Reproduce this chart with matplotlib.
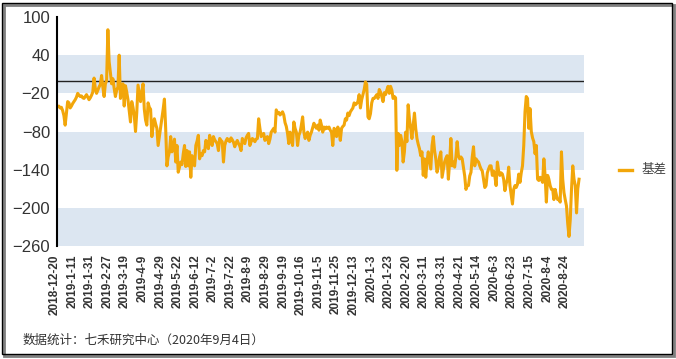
import matplotlib
matplotlib.use("Agg")
import matplotlib.pyplot as plt
import matplotlib.transforms as mtransforms
from matplotlib.lines import Line2D
from matplotlib.patches import Rectangle

plt.rcParams['font.family'] = ['Liberation Sans', 'Noto Sans CJK SC', 'DejaVu Sans']

# basis series, one value per trading day (2018-12-20 .. 2020-9-4)
basis = [
    -41, -40, -43, -42, -47, -55, -70, -52, -33, -35, -43, -40, -36, -33,
    -30, -26, -20, -23, -25, -24, -27, -28, -25, -22, -26, -30, -27, -23,
    -18, 4, -12, -20, -15, -10, -6, 8, -10, -25, -5, 0, 80, 30,
    12, -5, 3, -12, -25, -15, -10, 40, -28, -15, -5, -40, -8, -18,
    -30, -48, -65, -33, -42, -55, -80, -50, -7, -20, -33, -18, -5, -45,
    -62, -70, -35, -42, -45, -88, -72, -60, -68, -75, -102, -88, -75, -60,
    -45, -29, -75, -134, -120, -112, -88, -112, -104, -92, -128, -102, -144, -136,
    -128, -132, -115, -102, -135, -110, -134, -112, -152, -118, -126, -134, -102, -95,
    -86, -123, -115, -118, -110, -112, -94, -100, -107, -86, -95, -102, -88, -93,
    -96, -99, -110, -91, -94, -96, -128, -102, -95, -91, -94, -96, -90, -93,
    -97, -104, -98, -94, -99, -103, -110, -91, -95, -99, -90, -86, -83, -102,
    -96, -91, -93, -96, -92, -91, -60, -75, -88, -85, -83, -94, -90, -88,
    -99, -92, -81, -78, -75, -81, -46, -51, -50, -54, -52, -49, -54, -66,
    -72, -83, -99, -81, -90, -102, -65, -75, -81, -102, -86, -81, -70, -57,
    -81, -91, -85, -81, -94, -86, -81, -74, -67, -72, -75, -70, -78, -62,
    -70, -81, -73, -76, -73, -75, -73, -78, -81, -102, -75, -78, -88, -73,
    -80, -94, -75, -72, -70, -60, -62, -51, -55, -49, -46, -43, -35, -38,
    -36, -33, -22, -43, -30, -22, -14, -2, -6, -57, -60, -52, -35, -28,
    -28, -25, -22, -28, -14, -18, -25, -33, -19, -22, -15, -9, -20, -9,
    -15, -28, -25, -27, -141, -83, -102, -86, -95, -128, -112, -81, -96, -38,
    -60, -75, -91, -70, -51, -75, -91, -100, -107, -118, -112, -149, -123, -152,
    -128, -112, -125, -139, -102, -88, -110, -123, -144, -134, -120, -112, -152, -140,
    -128, -122, -118, -155, -128, -91, -134, -128, -136, -120, -96, -118, -123, -120,
    -123, -136, -150, -171, -165, -165, -150, -144, -120, -104, -134, -123, -126, -128,
    -134, -139, -142, -155, -168, -165, -145, -139, -134, -134, -149, -142, -150, -165,
    -128, -142, -149, -145, -147, -155, -173, -162, -155, -136, -165, -180, -194, -171,
    -165, -168, -163, -147, -160, -145, -134, -102, -49, -25, -28, -75, -44, -80,
    -90, -96, -115, -102, -155, -157, -152, -155, -160, -123, -150, -191, -149, -155,
    -165, -171, -171, -187, -171, -180, -187, -187, -191, -112, -155, -176, -187, -197,
    -225, -245, -219, -171, -134, -155, -165, -208, -170, -155,
]

tick_labels = [
    '2018-12-20', '2019-1-11', '2019-1-31', '2019-2-27', '2019-3-19', '2019-4-9',
    '2019-4-29', '2019-5-22', '2019-6-12', '2019-7-2', '2019-7-22', '2019-8-9',
    '2019-8-29', '2019-9-19', '2019-10-16', '2019-11-5', '2019-11-25', '2019-12-13',
    '2020-1-3', '2020-1-23', '2020-2-20', '2020-3-11', '2020-3-31', '2020-4-21',
    '2020-5-14', '2020-6-3', '2020-6-23', '2020-7-15', '2020-8-4', '2020-8-24',
]
tick_step = 14
y_ticks = [100, 40, -20, -80, -140, -200, -260]

fig = plt.figure(figsize=(6.76, 3.59), dpi=100)
ax = fig.add_axes([0.0843, 0.3148, 0.7797, 0.6378])

# alternating shaded bands
for top, bottom in [(40, -20), (-80, -140), (-200, -260)]:
    ax.axhspan(bottom, top, color='#DCE6F1', lw=0, zorder=0)
ax.axhline(0, color='#222222', lw=1.0, zorder=1)

x = list(range(len(basis)))
ax.plot(x, basis, color='#F2A60A', lw=2.2, zorder=2, solid_joinstyle='round')

ax.set_ylim(-260, 100)
ax.set_yticks(y_ticks)
ax.set_xlim(-0.5, 419)
ax.set_xticks([i * tick_step for i in range(len(tick_labels))])
ax.set_xticklabels(tick_labels, rotation=90, fontsize=8.5, fontweight='bold',
                   color='#333333')
ax.tick_params(axis='y', labelsize=12, length=0, pad=5, colors='#333333')
ax.tick_params(axis='x', length=0, pad=6)

# rotated labels sit a little left of their categories
shift = mtransforms.ScaledTranslation(-3 / 100, 0, fig.dpi_scale_trans)
for lab in ax.get_xticklabels():
    lab.set_transform(lab.get_transform() + shift)

for side in ['top', 'right', 'bottom']:
    ax.spines[side].set_visible(False)
ax.spines['left'].set_linewidth(1.5)
ax.spines['left'].set_color('black')

# legend
fig.add_artist(Line2D([619 / 676, 632 / 676], [1 - 170 / 359] * 2,
                      color='#F2A60A', lw=2.4))
fig.text(642 / 676, 1 - 170 / 359, '基差', fontsize=9, va='center',
         color='#404040', family=['Noto Sans CJK SC', 'DejaVu Sans'])

fig.text(23 / 676, 1 - 340 / 359, '数据统计：七禾研究中心（2020年9月4日）',
         fontsize=9, va='center', color='#333333',
         family=['Noto Sans CJK SC', 'DejaVu Sans'])

# frame with shadow
fig.add_artist(Rectangle((4 / 676, 1 - 356 / 359), 670 / 676, 351 / 359,
                         transform=fig.transFigure, fill=False,
                         edgecolor='#7f7f7f', lw=2))
fig.add_artist(Rectangle((2 / 676, 1 - 354 / 359), 670 / 676, 351 / 359,
                         transform=fig.transFigure, facecolor='none',
                         edgecolor='black', lw=1))

fig.savefig('out.png', dpi=100)
